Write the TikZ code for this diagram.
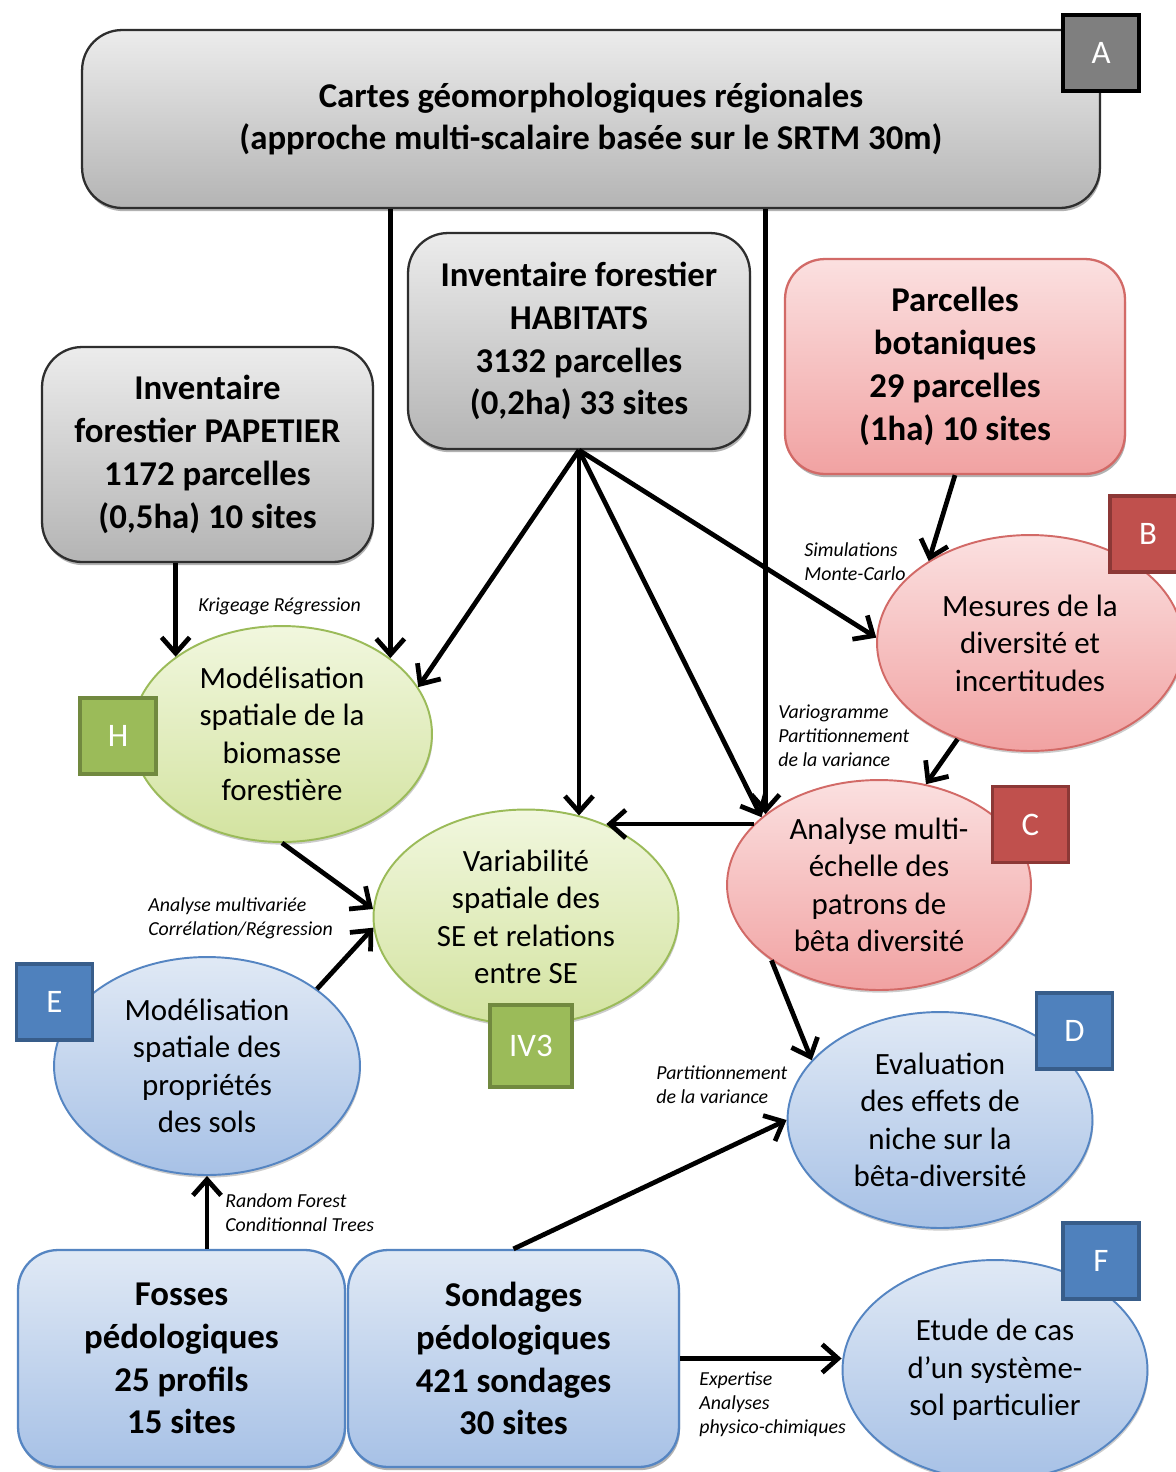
\documentclass[tikz,border=0pt]{standalone}
\usepackage{fontspec}
\setmainfont{Carlito}
\usetikzlibrary{arrows.meta,shapes.geometric,shadows}
\definecolor{grayT}{HTML}{ECECEC}
\definecolor{grayB}{HTML}{B4B4B4}
\definecolor{grayL}{HTML}{2E2E2E}
\definecolor{pinkT}{HTML}{FBE0E0}
\definecolor{pinkB}{HTML}{F1A2A2}
\definecolor{pinkL}{HTML}{D26A67}
\definecolor{greenT}{HTML}{F1F7DE}
\definecolor{greenB}{HTML}{D3E3A0}
\definecolor{greenL}{HTML}{9BBB59}
\definecolor{blueT}{HTML}{E0E9F5}
\definecolor{blueB}{HTML}{A7C1E6}
\definecolor{blueL}{HTML}{5585C2}
\definecolor{tagGray}{HTML}{7F7F7F}
\definecolor{tagRed}{HTML}{C0504D}
\definecolor{tagRedL}{HTML}{8C3836}
\definecolor{tagBlue}{HTML}{4F81BD}
\definecolor{tagBlueL}{HTML}{385D8A}
\definecolor{tagGreen}{HTML}{9BBB59}
\definecolor{tagGreenL}{HTML}{71893F}
\begin{document}
\begin{tikzpicture}[x=0.02cm,y=-0.02cm,
  box/.style={rectangle, rounded corners=0.8cm, align=center, inner sep=0pt,
    line width=1.3pt, font=\fontsize{19.8pt}{24.4pt}\selectfont\bfseries,
    drop shadow={shadow xshift=0.6pt, shadow yshift=-1.8pt, opacity=0.3, fill=black}},
  ellip/.style={ellipse, align=center, inner sep=0pt, line width=1.1pt,
    font=\fontsize{17.6pt}{21.3pt}\selectfont,
    drop shadow={shadow xshift=0.5pt, shadow yshift=-1.5pt, opacity=0.2, fill=black}},
  grayfill/.style={draw=grayL, top color=grayT, bottom color=grayB},
  pinkfill/.style={draw=pinkL, top color=pinkT, bottom color=pinkB},
  greenfill/.style={draw=greenL, top color=greenT, bottom color=greenB},
  bluefill/.style={draw=blueL, top color=blueT, bottom color=blueB},
  tag/.style={rectangle, minimum size=1.52cm, inner sep=0pt, text=white,
    line width=2pt, font=\fontsize{18.7pt}{22pt}\selectfont},
  lab/.style={font=\fontsize{11.3pt}{13.6pt}\selectfont\itshape, align=left,
    inner sep=0pt, anchor=west},
  arr/.style={line width=2.7pt, -{Straight Barb[length=9pt,width=16pt]}}]

\fill[white] (0,0) rectangle (1176,1472);
\useasboundingbox (0,0) rectangle (1176,1472);

% edge labels
\node[lab] (lk) at (198,606) {Krigeage Régression};
\node[lab] (lsim) at (804,562) {Simulations\\Monte-Carlo};
\node[lab] (lvar) at (778,736) {Variogramme\\Partitionnement\\de la variance};
\node[lab] (lana) at (148,918) {Analyse multivariée\\Corrélation/Régression};
\node[lab] (lpart) at (656,1085) {Partitionnement\\de la variance};
\node[lab] (lrf) at (225,1213) {Random Forest\\Conditionnal Trees};
\node[lab] (lexp) at (699,1404) {Expertise\\Analyses\\physico-chimiques};

% boxes
\node[box,grayfill,minimum width=20.36cm,minimum height=3.56cm] (A) at (591,119)
  {Cartes géomorphologiques régionales\\(approche multi-scalaire basée sur le SRTM 30m)};
\node[box,grayfill,minimum width=6.62cm,minimum height=4.3cm] (pap) at (207.5,454.5)
  {Inventaire\\forestier PAPETIER\\1172 parcelles\\(0,5ha) 10 sites};
\node[box,grayfill,minimum width=6.84cm,minimum height=4.32cm] (hab) at (579,341)
  {Inventaire forestier\\HABITATS\\3132 parcelles\\(0,2ha) 33 sites};
\node[box,pinkfill,minimum width=6.8cm,minimum height=4.3cm] (parc) at (955,366.5)
  {Parcelles\\botaniques\\29 parcelles\\(1ha) 10 sites};
\node[box,bluefill,minimum width=6.54cm,minimum height=4.34cm] (fos) at (181.5,1358.5)
  {Fosses\\pédologiques\\25 profils\\15 sites};
\node[box,bluefill,minimum width=6.62cm,minimum height=4.34cm] (sond) at (513.5,1358.5)
  {Sondages\\pédologiques\\421 sondages\\30 sites};

% ellipses
\node[ellip,pinkfill,minimum width=6.12cm,minimum height=4.32cm] (B) at (1030,643)
  {Mesures de la\\diversité et\\incertitudes};
\node[ellip,pinkfill,minimum width=6.08cm,minimum height=4.2cm] (C) at (879,885)
  {Analyse multi-\\échelle des\\patrons de\\bêta diversité};
\node[ellip,bluefill,minimum width=6.1cm,minimum height=4.32cm] (D) at (940,1120)
  {Evaluation\\des effets de\\niche sur la\\bêta-diversité};
\node[ellip,bluefill,minimum width=6.1cm,minimum height=4.4cm] (F) at (995,1370)
  {Etude de cas\\d’un système-\\sol particulier};
\node[ellip,greenfill,minimum width=6.0cm,minimum height=4.32cm] (H) at (282,734)
  {Modélisation\\spatiale de la\\biomasse\\forestière};
\node[ellip,greenfill,minimum width=6.1cm,minimum height=4.3cm] (IV) at (526,917)
  {Variabilité\\spatiale des\\SE et relations\\entre SE};
\node[ellip,bluefill,minimum width=6.12cm,minimum height=4.36cm] (E) at (207,1066)
  {Modélisation\\spatiale des\\propriétés\\des sols};

% tags
\node[tag,fill=tagGray,draw=black,line width=2.6pt] (tA) at (1101,53) {A};
\node[tag,fill=tagRed,draw=tagRedL] (tB) at (1148,534) {B};
\node[tag,fill=tagRed,draw=tagRedL] (tC) at (1030.5,824.5) {C};
\node[tag,fill=tagBlue,draw=tagBlueL] (tD) at (1074.5,1031) {D};
\node[tag,fill=tagBlue,draw=tagBlueL] (tE) at (54.5,1002) {E};
\node[tag,fill=tagBlue,draw=tagBlueL] (tF) at (1101,1261) {F};
\node[tag,fill=tagGreen,draw=tagGreenL] (tH) at (118,736) {H};
\node[tag,fill=tagGreen,draw=tagGreenL,minimum size=1.64cm] (tIV) at (531,1046) {IV3};

% connectors
\draw[arr] (pap.south -| H.144) -- (H.144);
\draw[arr] (A.south -| H.35) -- (H.35);
\draw[arr] (A.south -| C.148) -- (C.148);
\draw[arr] (hab.south) -- (H.19);
\draw[arr] (hab.south) -- (hab.south |- IV.62);
\draw[arr] (hab.south) -- (C.150);
\draw[arr] (hab.south) -- (B.178);
\draw[arr] (parc.south) -- (B.141);
\draw[arr] (B.233) -- (C.65);
\draw[arr] (C.154) -- (C.154 -| IV.49);
\draw[arr] (H.270) -- (IV.177);
\draw[arr] (E.35) -- (IV.184);
\draw[arr] (fos.north -| E.270) -- (E.270);
\draw[arr] (sond.north) -- (D.180);
\draw[arr] (C.215) -- (D.155);
\draw[arr] (sond.east) -- (sond.east -| F.west);
\end{tikzpicture}
\end{document}
